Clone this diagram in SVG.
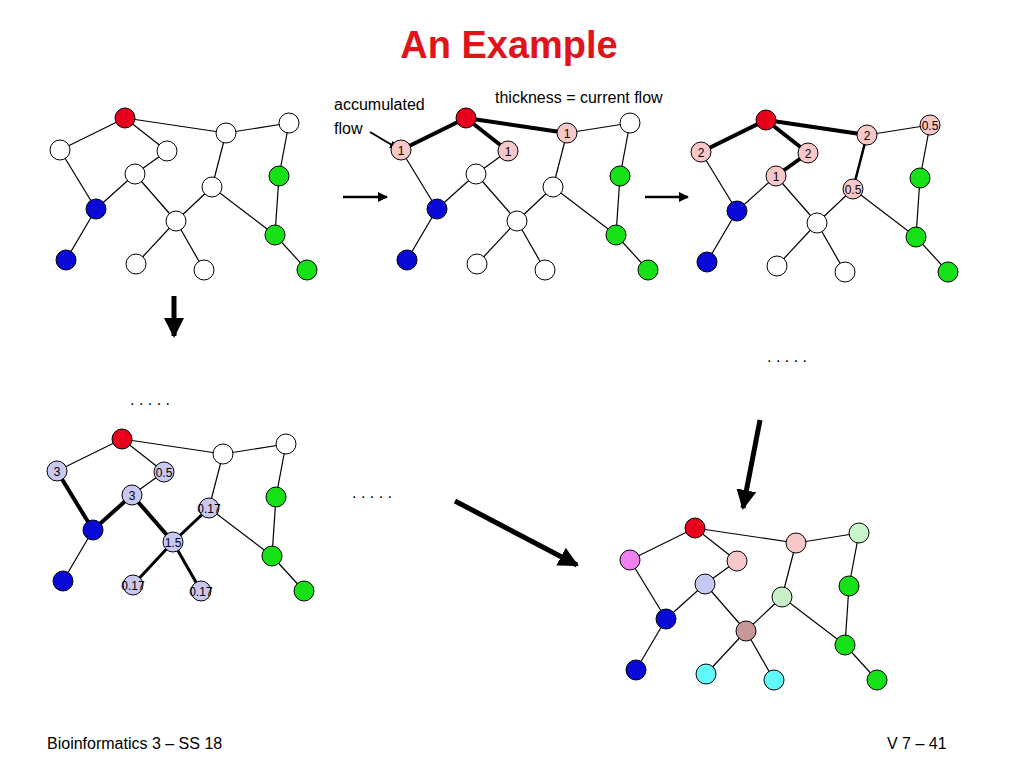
<svg xmlns="http://www.w3.org/2000/svg" width="1024" height="768" viewBox="0 0 1024 768">
<defs>
<marker id="ah" viewBox="0 0 10 10" refX="9" refY="5" markerWidth="4" markerHeight="4" orient="auto"><path d="M0,0 L10,5 L0,10 z" fill="#000"/></marker>
<style>
.e line{stroke:#000;stroke-width:1.2}
.n circle{stroke:#000;stroke-width:1}
text{font-family:"Liberation Sans",Arial,sans-serif}
.l{font-size:12px;text-anchor:middle;dominant-baseline:central}
</style>
<g id="gr">
<g class="e">
<line x1="125" y1="118" x2="60" y2="150"/><line x1="125" y1="118" x2="167" y2="151"/><line x1="125" y1="118" x2="226" y2="133"/>
<line x1="226" y1="133" x2="289" y2="123"/><line x1="60" y1="150" x2="96" y2="209"/><line x1="167" y1="151" x2="135" y2="174"/>
<line x1="135" y1="174" x2="96" y2="209"/><line x1="135" y1="174" x2="176" y2="221"/><line x1="96" y1="209" x2="66" y2="260"/>
<line x1="176" y1="221" x2="212" y2="187"/><line x1="176" y1="221" x2="136" y2="264"/><line x1="176" y1="221" x2="204" y2="270"/>
<line x1="212" y1="187" x2="226" y2="133"/><line x1="212" y1="187" x2="275" y2="235"/><line x1="289" y1="123" x2="279" y2="176"/>
<line x1="279" y1="176" x2="275" y2="235"/><line x1="275" y1="235" x2="307" y2="270"/>
</g>
</g>
</defs>
<text x="509" y="58" font-size="38" font-weight="bold" fill="#e0141a" text-anchor="middle">An Example</text>

<g id="connectors" stroke="#000" fill="none">
<!-- panel 1 -->
<use href="#gr"/>
<use href="#gr" x="341"/>
<use href="#gr" x="641" y="2"/>
<use href="#gr" x="-3" y="321"/>
<use href="#gr" x="570" y="410"/>
<!-- thick p2 -->
<g stroke-width="4"><line x1="466" y1="118" x2="401" y2="150"/><line x1="466" y1="118" x2="508" y2="151"/><line x1="466" y1="118" x2="567" y2="133"/></g>
<!-- thick p3 -->
<g stroke-width="4"><line x1="766" y1="120" x2="701" y2="152"/><line x1="766" y1="120" x2="808" y2="153"/><line x1="766" y1="120" x2="867" y2="135"/><line x1="808" y1="153" x2="776" y2="176"/></g>
<line x1="867" y1="135" x2="853" y2="189" stroke-width="2.5"/>
<!-- thick p4 -->
<g stroke-width="4"><line x1="57" y1="471" x2="93" y2="530"/><line x1="132" y1="495" x2="93" y2="530"/><line x1="132" y1="495" x2="173" y2="542"/></g>
<g stroke-width="3"><line x1="173" y1="542" x2="133" y2="585"/><line x1="173" y1="542" x2="201" y2="591"/><line x1="173" y1="542" x2="209" y2="508"/></g>
<!-- arrows -->
<g stroke-width="2.5" marker-end="url(#ah)">
<line x1="343" y1="197" x2="387" y2="197"/><line x1="645" y1="197" x2="688" y2="197"/>
</g>
<g stroke-width="5" marker-end="url(#ah)">
<line x1="174" y1="296" x2="174" y2="336"/><line x1="760" y1="420" x2="743" y2="508"/><line x1="455" y1="501" x2="577" y2="565"/>
</g>
<line x1="370" y1="132" x2="397" y2="148" stroke-width="2" marker-end="url(#ah)"/>
</g>

<g id="nodes" class="n">
<!-- panel 1 -->
<g id="p1"><circle cx="125" cy="118" r="10" fill="#e8001c"/><circle cx="60" cy="150" r="10" fill="#fff"/><circle cx="167" cy="151" r="10" fill="#fff"/><circle cx="135" cy="174" r="10" fill="#fff"/><circle cx="96" cy="209" r="10" fill="#0a0ad8"/><circle cx="66" cy="260" r="10" fill="#0a0ad8"/><circle cx="176" cy="221" r="10" fill="#fff"/><circle cx="212" cy="187" r="10" fill="#fff"/><circle cx="226" cy="133" r="10" fill="#fff"/><circle cx="289" cy="123" r="10" fill="#fff"/><circle cx="279" cy="176" r="10" fill="#16e016"/><circle cx="275" cy="235" r="10" fill="#16e016"/><circle cx="307" cy="270" r="10" fill="#16e016"/><circle cx="136" cy="264" r="10" fill="#fff"/><circle cx="204" cy="270" r="10" fill="#fff"/></g>
<g id="p2" transform="translate(341,0)"><circle cx="125" cy="118" r="10" fill="#e8001c"/><circle cx="60" cy="150" r="10" fill="#f8c8c8"/><circle cx="167" cy="151" r="10" fill="#f8c8c8"/><circle cx="135" cy="174" r="10" fill="#fff"/><circle cx="96" cy="209" r="10" fill="#0a0ad8"/><circle cx="66" cy="260" r="10" fill="#0a0ad8"/><circle cx="176" cy="221" r="10" fill="#fff"/><circle cx="212" cy="187" r="10" fill="#fff"/><circle cx="226" cy="133" r="10" fill="#f8c8c8"/><circle cx="289" cy="123" r="10" fill="#fff"/><circle cx="279" cy="176" r="10" fill="#16e016"/><circle cx="275" cy="235" r="10" fill="#16e016"/><circle cx="307" cy="270" r="10" fill="#16e016"/><circle cx="136" cy="264" r="10" fill="#fff"/><circle cx="204" cy="270" r="10" fill="#fff"/>
<text class="l" x="60" y="151">1</text><text class="l" x="167" y="152">1</text><text class="l" x="226" y="134">1</text></g>
<g id="p3" transform="translate(641,2)"><circle cx="125" cy="118" r="10" fill="#e8001c"/><circle cx="60" cy="150" r="10" fill="#f8c8c8"/><circle cx="167" cy="151" r="10" fill="#f8c8c8"/><circle cx="135" cy="174" r="10" fill="#f8c8c8"/><circle cx="96" cy="209" r="10" fill="#0a0ad8"/><circle cx="66" cy="260" r="10" fill="#0a0ad8"/><circle cx="176" cy="221" r="10" fill="#fff"/><circle cx="212" cy="187" r="10" fill="#f8c8c8"/><circle cx="226" cy="133" r="10" fill="#f8c8c8"/><circle cx="289" cy="123" r="10" fill="#f8c8c8"/><circle cx="279" cy="176" r="10" fill="#16e016"/><circle cx="275" cy="235" r="10" fill="#16e016"/><circle cx="307" cy="270" r="10" fill="#16e016"/><circle cx="136" cy="264" r="10" fill="#fff"/><circle cx="204" cy="270" r="10" fill="#fff"/>
<text class="l" x="60" y="151" font-size="14">2</text><text class="l" x="167" y="152" font-size="14">2</text><text class="l" x="135" y="175" font-size="14">1</text><text class="l" x="226" y="134" font-size="14">2</text><text class="l" x="289" y="124">0.5</text><text class="l" x="212" y="188">0.5</text></g>
<g id="p4" transform="translate(-3,321)"><circle cx="125" cy="118" r="10" fill="#e8001c"/><circle cx="60" cy="150" r="10" fill="#c8c8f0"/><circle cx="167" cy="151" r="10" fill="#c8c8f0"/><circle cx="135" cy="174" r="10" fill="#c8c8f0"/><circle cx="96" cy="209" r="10" fill="#0a0ad8"/><circle cx="66" cy="260" r="10" fill="#0a0ad8"/><circle cx="176" cy="221" r="10" fill="#c8c8f0"/><circle cx="212" cy="187" r="10" fill="#c8c8f0"/><circle cx="226" cy="133" r="10" fill="#fff"/><circle cx="289" cy="123" r="10" fill="#fff"/><circle cx="279" cy="176" r="10" fill="#16e016"/><circle cx="275" cy="235" r="10" fill="#16e016"/><circle cx="307" cy="270" r="10" fill="#16e016"/><circle cx="136" cy="264" r="10" fill="#c8c8f0"/><circle cx="204" cy="270" r="10" fill="#c8c8f0"/>
<text class="l" x="60" y="151" font-size="14">3</text><text class="l" x="167" y="152">0.5</text><text class="l" x="135" y="175" font-size="14">3</text><text class="l" x="176" y="222">1.5</text><text class="l" x="212" y="188">0.17</text><text class="l" x="136" y="265">0.17</text><text class="l" x="204" y="271">0.17</text></g>
<g id="p5" transform="translate(570,410)"><circle cx="125" cy="118" r="10" fill="#e8001c"/><circle cx="60" cy="150" r="10" fill="#f080f0"/><circle cx="167" cy="151" r="10" fill="#f8c8c8"/><circle cx="135" cy="174" r="10" fill="#c8c8f0"/><circle cx="96" cy="209" r="10" fill="#0a0ad8"/><circle cx="66" cy="260" r="10" fill="#0a0ad8"/><circle cx="176" cy="221" r="10" fill="#c89898"/><circle cx="212" cy="187" r="10" fill="#c8f0c8"/><circle cx="226" cy="133" r="10" fill="#f8c8c8"/><circle cx="289" cy="123" r="10" fill="#c8f8c8"/><circle cx="279" cy="176" r="10" fill="#16e016"/><circle cx="275" cy="235" r="10" fill="#16e016"/><circle cx="307" cy="270" r="10" fill="#16e016"/><circle cx="136" cy="264" r="10" fill="#60f8f8"/><circle cx="204" cy="270" r="10" fill="#60f8f8"/></g>
</g>

<g font-size="16">
<text x="334" y="110">accumulated</text><text x="334" y="134">flow</text>
<text x="495" y="103">thickness = current flow</text>
<text x="130" y="405">. . . . .</text><text x="767" y="362">. . . . .</text><text x="352" y="498">. . . . .</text>
<text x="47" y="749">Bioinformatics 3 – SS 18</text>
<text x="887" y="749">V 7 –  41</text>
</g>
</svg>
